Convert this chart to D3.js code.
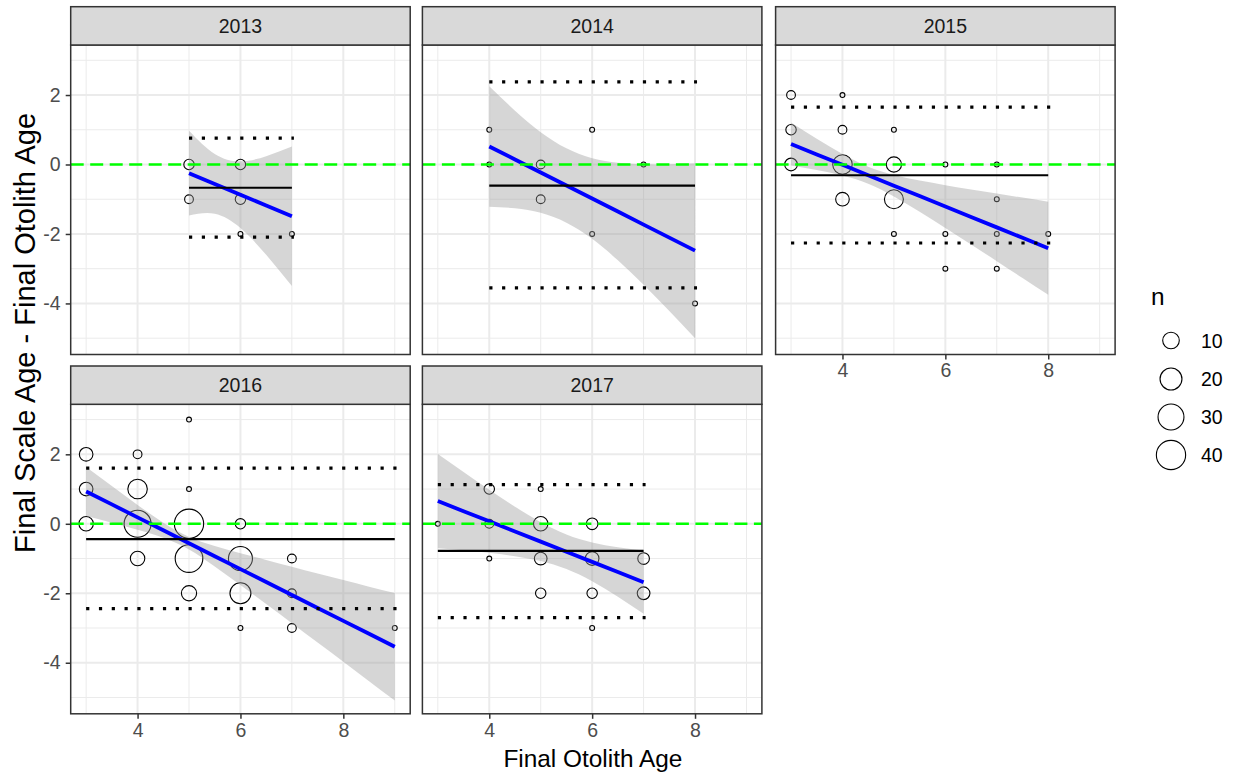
<!DOCTYPE html>
<html><head><meta charset="utf-8">
<script src="https://cdn.jsdelivr.net/npm/d3@7"></script>
<style>
html,body{margin:0;padding:0;background:#fff;}
text{font-family:Arial,"Liberation Sans",Helvetica,sans-serif;}
</style></head>
<body><svg id="chart" width="1238" height="776"></svg>
<script>
// ---------------- data ----------------
const years = ["2013", "2014", "2015", "2016", "2017"];

// observations: otolith age, difference (scale - otolith), count n
const obsYear = ["2013","2013","2013","2013","2013","2013",
  "2014","2014","2014","2014","2014","2014","2014","2014",
  "2015","2015","2015","2015","2015","2015","2015","2015","2015","2015","2015","2015","2015","2015","2015","2015","2015","2015","2015",
  "2016","2016","2016","2016","2016","2016","2016","2016","2016","2016","2016","2016","2016","2016","2016","2016","2016","2016","2016","2016",
  "2017","2017","2017","2017","2017","2017","2017","2017","2017","2017","2017","2017","2017","2017"];
const obsAge = [5,5,6,6,6,7,
  4,4,5,5,6,6,7,8,
  3,3,3,4,4,4,4,5,5,5,5,6,6,6,7,7,7,7,8,
  3,3,3,4,4,4,4,5,5,5,5,5,6,6,6,6,7,7,7,9,
  3,4,4,4,5,5,5,5,6,6,6,6,7,7];
const obsDiff = [0,-1,0,-1,-2,-2,
  1,0,0,-1,1,-2,0,-4,
  2,1,0,2,1,0,-1,1,0,-1,-2,0,-2,-3,0,-1,-2,-3,-2,
  2,1,0,2,1,0,-1,3,1,0,-1,-2,0,-1,-2,-3,-1,-2,-3,-3,
  0,1,0,-1,1,0,-1,-2,0,-1,-2,-3,-1,-2];
const obsN = [3,2,3,3,1,1,
  1,1,2,2,1,1,1,1,
  2,3,5,1,2,15,6,1,8,14,1,1,1,1,1,1,1,1,1,
  6,6,7,2,15,33,7,1,1,40,35,8,3,25,18,1,2,2,2,1,
  1,3,2,1,1,7,5,3,4,6,3,1,4,5];

// mean difference and limits (mean +/- 1.96 sd) per year
const meanDiff   = [-0.67, -0.61, -0.31, -0.44, -0.78];
const upperLimit = [ 0.76,  2.38,  1.65,  1.60,  1.13];
const lowerLimit = [-2.09, -3.55, -2.26, -2.44, -2.70];

// linear smooth with 95% CI per year
const smoothX = [
  [5,5.5,6,6.5,7],
  [4,4.5,5,5.5,6,6.5,7,7.5,8],
  [3,3.5,4,4.5,5,5.5,6,6.5,7,7.5,8],
  [3,3.5,4,4.5,5,5.5,6,6.5,7,7.5,8,8.5,9],
  [3,3.5,4,4.5,5,5.5,6,6.5,7]
];
const smoothFit = [
  [-0.25,-0.56,-0.87,-1.18,-1.49],
  [0.52,0.145,-0.23,-0.605,-0.98,-1.355,-1.73,-2.105,-2.48],
  [0.59,0.29,-0.01,-0.31,-0.61,-0.91,-1.21,-1.51,-1.81,-2.11,-2.41],
  [0.93,0.5575,0.185,-0.1875,-0.56,-0.9325,-1.305,-1.6775,-2.05,-2.4225,-2.795,-3.1675,-3.54],
  [0.654,0.362,0.071,-0.221,-0.513,-0.805,-1.096,-1.388,-1.68]
];
const smoothLo = [
  [-1.47,-1.42,-1.83,-2.60,-3.50],
  [-1.215,-1.26,-1.39,-1.675,-2.14,-2.76,-3.465,-4.22,-5.0],
  [-0.026,-0.159,-0.319,-0.555,-0.919,-1.359,-1.826,-2.302,-2.783,-3.267,-3.751],
  [0.224,0.029,-0.174,-0.404,-0.742,-1.229,-1.765,-2.31,-2.864,-3.42,-3.97,-4.53,-5.09],
  [-0.704,-0.765,-0.837,-0.932,-1.073,-1.305,-1.656,-2.099,-2.588]
];
const smoothHi = [
  [0.97,0.30,0.09,0.24,0.52],
  [2.255,1.55,0.93,0.465,0.18,0.05,0.005,0.007,0.035],
  [1.206,0.739,0.299,-0.065,-0.301,-0.461,-0.594,-0.718,-0.837,-0.953,-1.069],
  [1.636,1.087,0.544,0.029,-0.378,-0.636,-0.845,-1.04,-1.236,-1.43,-1.62,-1.81,-1.99],
  [2.012,1.489,0.979,0.49,0.047,-0.305,-0.536,-0.677,-0.772]
];

const xTicks = [4, 6, 8];
const xMinor = [3, 5, 7, 9];
const yTicks = [-4, -2, 0, 2];
const yMinor = [-5, -3, -1, 1, 3];
const legendN = [10, 20, 30, 40];
const xTitle = "Final Otolith Age";
const yTitle = "Final Scale Age - Final Otolith Age";
const legendTitle = "n";

// ---------------- layout ----------------
const svg = d3.select("#chart");
const colLefts = [70.7, 422.4, 775.6];
const rowTops = [45, 404.3];
const panelW = 339.5, panelH = 309.5, stripH = 38.3;
const xDomain = [2.7, 9.3], yDomain = [-5.47, 3.44];
const tickFont = 19.5, titleFont = 24.4, yTitleFont = 29;

const nMin = d3.min(obsN), nMax = d3.max(obsN);
const rScale = d3.scaleSqrt().domain([0, nMax - nMin]).range([2.44, 14.64]);
const rOf = n => rScale(n - nMin);

years.forEach((yr, i) => {
  const row = Math.floor(i / 3), col = i % 3;
  const left = colLefts[col], top = rowTops[row];
  const x = d3.scaleLinear().domain(xDomain).range([left, left + panelW]);
  const y = d3.scaleLinear().domain(yDomain).range([top + panelH, top]);
  const g = svg.append("g");

  // panel background and grid
  g.append("rect").attr("x", left).attr("y", top).attr("width", panelW).attr("height", panelH).attr("fill", "#fff");
  g.selectAll(".gxm").data(xMinor).enter().append("line")
    .attr("x1", d => x(d)).attr("x2", d => x(d)).attr("y1", top).attr("y2", top + panelH)
    .attr("stroke", "#EBEBEB").attr("stroke-width", 1);
  g.selectAll(".gym").data(yMinor).enter().append("line")
    .attr("y1", d => y(d)).attr("y2", d => y(d)).attr("x1", left).attr("x2", left + panelW)
    .attr("stroke", "#EBEBEB").attr("stroke-width", 1);
  g.selectAll(".gx").data(xTicks).enter().append("line")
    .attr("x1", d => x(d)).attr("x2", d => x(d)).attr("y1", top).attr("y2", top + panelH)
    .attr("stroke", "#EBEBEB").attr("stroke-width", 2);
  g.selectAll(".gy").data(yTicks).enter().append("line")
    .attr("y1", d => y(d)).attr("y2", d => y(d)).attr("x1", left).attr("x2", left + panelW)
    .attr("stroke", "#EBEBEB").attr("stroke-width", 2);

  // points
  const pts = obsYear.map((yy, k) => ({yy, age: obsAge[k], diff: obsDiff[k], n: obsN[k]})).filter(d => d.yy === yr);
  g.selectAll(".pt").data(pts).enter().append("circle")
    .attr("cx", d => x(d.age)).attr("cy", d => y(d.diff)).attr("r", d => rOf(d.n))
    .attr("fill", "none").attr("stroke", "#000").attr("stroke-width", 1.1);

  // smooth ribbon + line
  const sm = smoothX[i].map((xv, k) => ({x: xv, fit: smoothFit[i][k], lo: smoothLo[i][k], hi: smoothHi[i][k]}));
  g.append("path").datum(sm)
    .attr("d", d3.area().x(d => x(d.x)).y0(d => y(d.lo)).y1(d => y(d.hi)).curve(d3.curveNatural))
    .attr("fill", "#999999").attr("fill-opacity", 0.4);
  g.append("path").datum(sm)
    .attr("d", d3.line().x(d => x(d.x)).y(d => y(d.fit)))
    .attr("fill", "none").attr("stroke", "#0000FF").attr("stroke-width", 3.8);

  // zero line
  g.append("line").attr("x1", left).attr("x2", left + panelW).attr("y1", y(0)).attr("y2", y(0))
    .attr("stroke", "#00FF00").attr("stroke-width", 2.4).attr("stroke-dasharray", "13,6.5");

  // mean and limits
  const xr = d3.extent(pts, d => d.age);
  g.append("line").attr("x1", x(xr[0])).attr("x2", x(xr[1])).attr("y1", y(meanDiff[i])).attr("y2", y(meanDiff[i]))
    .attr("stroke", "#000").attr("stroke-width", 2.2);
  [upperLimit[i], lowerLimit[i]].forEach(v => {
    g.append("line").attr("x1", x(xr[0])).attr("x2", x(xr[1]) + 2).attr("y1", y(v)).attr("y2", y(v))
      .attr("stroke", "#000").attr("stroke-width", 3.2).attr("stroke-dasharray", "3.2,9.6");
  });

  // border
  g.append("rect").attr("x", left).attr("y", top).attr("width", panelW).attr("height", panelH)
    .attr("fill", "none").attr("stroke", "#333333").attr("stroke-width", 1.5);

  // strip
  g.append("rect").attr("x", left).attr("y", top - stripH).attr("width", panelW).attr("height", stripH)
    .attr("fill", "#D9D9D9").attr("stroke", "#333333").attr("stroke-width", 1.5);
  g.append("text").attr("x", left + panelW / 2).attr("y", top - stripH / 2).attr("dy", "0.36em")
    .attr("text-anchor", "middle").attr("font-size", tickFont).attr("fill", "#1A1A1A").text(yr);

  // y axis on first column
  if (col === 0) {
    const ax = g.append("g").attr("transform", `translate(${left},0)`)
      .call(d3.axisLeft(y).tickValues(yTicks).tickSize(5).tickPadding(5).tickFormat(d => String(d)));
    ax.select(".domain").remove();
    ax.selectAll("line").attr("stroke", "#333333").attr("stroke-width", 1.5);
    ax.selectAll("text").attr("font-size", tickFont).attr("fill", "#4D4D4D").attr("font-family", "Arial, 'Liberation Sans', sans-serif");
  }
  // x axis on bottom-most panels
  if (row === 1 || i === 2) {
    const ax = g.append("g").attr("transform", `translate(0,${top + panelH})`)
      .call(d3.axisBottom(x).tickValues(xTicks).tickSize(5).tickPadding(4).tickFormat(d => String(d)));
    ax.select(".domain").remove();
    ax.selectAll("line").attr("stroke", "#333333").attr("stroke-width", 1.5);
    ax.selectAll("text").attr("font-size", tickFont).attr("fill", "#4D4D4D").attr("font-family", "Arial, 'Liberation Sans', sans-serif");
  }
});

// axis titles
svg.append("text").attr("x", (colLefts[0] + colLefts[2] + panelW) / 2).attr("y", 767)
  .attr("text-anchor", "middle").attr("font-size", titleFont).attr("fill", "#000").text(xTitle);
svg.append("text").attr("transform", `translate(35,333) rotate(-90)`)
  .attr("text-anchor", "middle").attr("font-size", yTitleFont).attr("fill", "#000").text(yTitle);

// legend
const legKeyY = [340.5, 379, 417, 455];
svg.append("text").attr("x", 1151).attr("y", 305).attr("font-size", titleFont).attr("fill", "#000").text(legendTitle);
legendN.forEach((n, k) => {
  svg.append("circle").attr("cx", 1171).attr("cy", legKeyY[k]).attr("r", rOf(n))
    .attr("fill", "none").attr("stroke", "#000").attr("stroke-width", 1.1);
  svg.append("text").attr("x", 1201).attr("y", legKeyY[k]).attr("dy", "0.36em")
    .attr("font-size", tickFont).attr("fill", "#000").text(String(n));
});
</script></body></html>
